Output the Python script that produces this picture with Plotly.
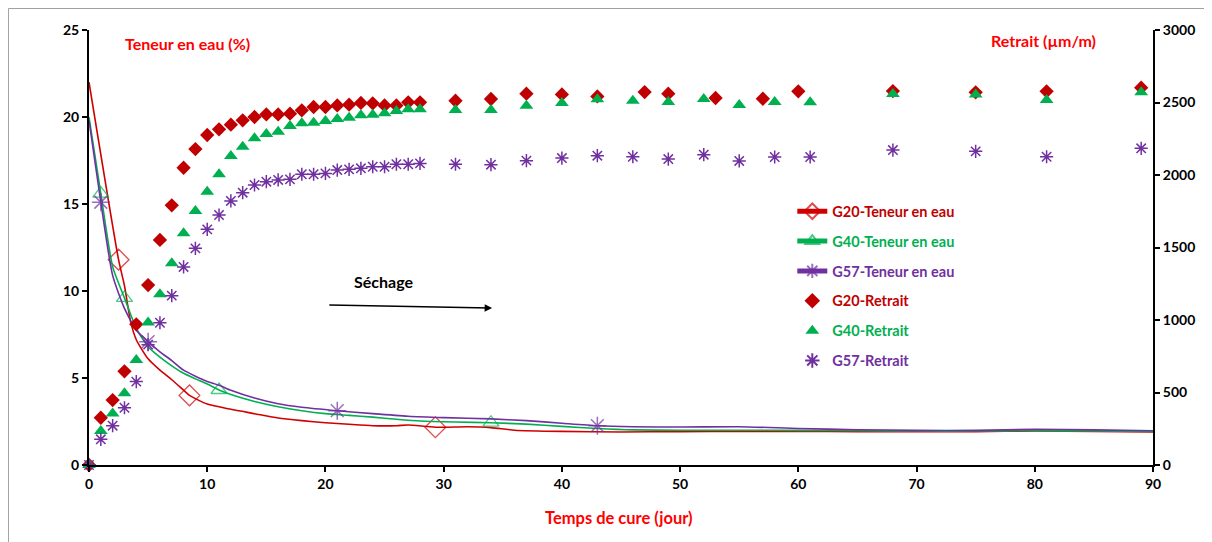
import plotly.graph_objects as go

# ---------------- data ----------------
# Teneur en eau (%) - left axis
g20_ten_days = [0, 2.5, 3, 3.5, 4, 5, 6, 7, 8, 8.5, 10, 12, 14, 16, 18, 20, 22, 24, 26, 27, 29.3, 32, 34, 36,
                40, 45, 50, 55, 60, 65, 70, 75, 80, 85, 90]
g20_ten = [22.0, 11.8, 10.3, 8.3, 7.2, 6.1, 5.45, 4.9, 4.3, 4.0, 3.5, 3.2, 2.95, 2.7, 2.55, 2.43, 2.34, 2.26,
           2.26, 2.3, 2.17, 2.2, 2.15, 2.0, 1.93, 1.9, 1.92, 1.93, 1.93, 1.92, 1.91, 1.92, 1.95, 1.93, 1.9]
g20_ten_marks = [2.5, 8.5, 29.3]

g40_ten_days = [0, 1, 2, 3, 4, 5, 6, 7, 8, 9, 10, 11, 12, 14, 16, 18, 20, 22, 24, 26, 28, 31, 34, 37, 40, 43,
                46, 50, 55, 60, 65, 70, 75, 80, 85, 90]
g40_ten = [20.0, 15.6, 11.4, 9.6, 7.85, 6.8, 6.2, 5.7, 5.27, 4.95, 4.65, 4.31, 4.05, 3.65, 3.35, 3.12, 2.95,
           2.85, 2.75, 2.63, 2.53, 2.47, 2.43, 2.35, 2.22, 2.1, 2.02, 2.0, 2.0, 1.99, 1.97, 1.95, 1.95, 1.97,
           1.95, 1.93]
g40_ten_marks = [1, 3, 11, 34]

g57_ten_days = [0, 1, 2, 3, 4, 5, 6, 7, 8, 9, 10, 11, 12, 14, 16, 18, 21, 24, 27, 30, 34, 37, 40, 43, 46, 50,
                55, 60, 65, 70, 75, 80, 85, 90]
g57_ten = [19.8, 15.1, 10.9, 9.0, 7.75, 7.09, 6.5, 6.0, 5.45, 5.1, 4.8, 4.58, 4.3, 3.85, 3.52, 3.32, 3.12,
           2.95, 2.8, 2.72, 2.65, 2.55, 2.4, 2.26, 2.2, 2.18, 2.2, 2.1, 2.03, 1.99, 1.99, 2.05, 2.02, 1.97]
g57_ten_marks = [1, 5, 21, 43]

# Retrait (µm/m) - right axis
g20_ret_days = list(range(0, 29)) + [31, 34, 37, 40, 43, 47, 49, 53, 57, 60, 68, 75, 81, 89]
g20_ret = [0, 326, 448, 646, 970, 1241, 1552, 1791, 2050, 2179,
           2276, 2315, 2347, 2377, 2400, 2418, 2418, 2423, 2446, 2469,
           2469, 2480, 2485, 2497, 2494, 2480, 2480, 2501, 2501,
           2512, 2524, 2561, 2556, 2542, 2572, 2561, 2531, 2526, 2577, 2579, 2570, 2577, 2602]

g40_ret_days = list(range(0, 29)) + [31, 34, 37, 40, 43, 46, 49, 52, 55, 58, 61, 68, 75, 81, 89]
g40_ret = [0, 234, 356, 494, 724, 982, 1177, 1391, 1598, 1752,
           1885, 2005, 2131, 2195, 2253, 2283, 2299, 2338, 2357, 2361,
           2372, 2386, 2395, 2412, 2416, 2426, 2441, 2453, 2453,
           2448, 2448, 2478, 2497, 2522, 2512, 2503, 2524, 2483, 2503, 2501, 2559, 2556, 2517, 2570]

g57_ret_days = list(range(0, 29)) + [31, 34, 37, 40, 43, 46, 49, 52, 55, 58, 61, 68, 75, 81, 89]
g57_ret = [0, 177, 271, 395, 575, 830, 981, 1168, 1366, 1494,
           1625, 1724, 1821, 1878, 1931, 1954, 1966, 1970, 2005, 2005,
           2011, 2034, 2039, 2046, 2057, 2057, 2074, 2074, 2080,
           2074, 2071, 2099, 2117, 2133, 2126, 2110, 2140, 2097, 2124, 2124, 2172, 2163, 2126, 2184]

x_ticks = [0, 10, 20, 30, 40, 50, 60, 70, 80, 90]
y_ticks = [0, 5, 10, 15, 20, 25]
y2_ticks = [0, 500, 1000, 1500, 2000, 2500, 3000]

RED = "#C00000"
RED_LINE = "#D00000"
GREEN = "#00B050"
PURPLE = "#7030A0"
FONT = "Lato"


def lab(text, color):
    return f"<b><span style='color:{color}'>{text}</span></b>"


def msizes(days, marks, s):
    return [s if d in marks else 0 for d in days]


fig = go.Figure()

fig.add_trace(go.Scatter(
    x=g20_ten_days, y=g20_ten, mode="lines+markers", name=lab("G20-Teneur en eau", RED),
    line=dict(color=RED_LINE, width=1.6, shape="spline", smoothing=0.6),
    marker=dict(symbol="diamond-open", size=msizes(g20_ten_days, g20_ten_marks, 16),
                color=RED_LINE, line=dict(width=1.3, color=RED_LINE)),
    legendgroup="a", cliponaxis=False))
fig.add_trace(go.Scatter(
    x=g40_ten_days, y=g40_ten, mode="lines+markers", name=lab("G40-Teneur en eau", GREEN),
    line=dict(color=GREEN, width=1.6, shape="spline", smoothing=0.6),
    marker=dict(symbol="triangle-up-open", size=msizes(g40_ten_days, g40_ten_marks, 14),
                color=GREEN, line=dict(width=1.3, color=GREEN)),
    legendgroup="b", cliponaxis=False))
fig.add_trace(go.Scatter(
    x=g57_ten_days, y=g57_ten, mode="lines+markers", name=lab("G57-Teneur en eau", PURPLE),
    line=dict(color=PURPLE, width=1.6, shape="spline", smoothing=0.6),
    marker=dict(symbol="asterisk-open", size=msizes(g57_ten_days, g57_ten_marks, 15),
                color=PURPLE, line=dict(width=1.5, color=PURPLE)),
    legendgroup="c", cliponaxis=False))

fig.add_trace(go.Scatter(
    x=g20_ret_days, y=g20_ret, mode="markers", name=lab("G20-Retrait", RED), yaxis="y2",
    marker=dict(symbol="diamond", size=11, color=RED), legendgroup="d", cliponaxis=False))
fig.add_trace(go.Scatter(
    x=g40_ret_days, y=g40_ret, mode="markers", name=lab("G40-Retrait", GREEN), yaxis="y2",
    marker=dict(symbol="triangle-up", size=12, color=GREEN), legendgroup="e", cliponaxis=False))
fig.add_trace(go.Scatter(
    x=g57_ret_days, y=g57_ret, mode="markers", name=lab("G57-Retrait", PURPLE), yaxis="y2",
    marker=dict(symbol="asterisk-open", size=11, color=PURPLE, line=dict(width=1.5, color=PURPLE)),
    legendgroup="f", cliponaxis=False))

tickfont = dict(family=FONT, size=14, color="black", weight=700)
axis_common = dict(showline=True, linecolor="black", linewidth=2, ticks="outside", ticklen=5,
                   tickwidth=2, tickcolor="black", showgrid=False, zeroline=False, tickfont=tickfont)

fig.update_layout(
    width=1212, height=542,
    margin=dict(l=81, r=67, t=22, b=85),
    paper_bgcolor="white", plot_bgcolor="white",
    font=dict(family=FONT, size=14, color="black"),
    xaxis=dict(range=[0, 90], tickvals=x_ticks, **axis_common),
    yaxis=dict(range=[0, 25], tickvals=y_ticks, **axis_common),
    yaxis2=dict(range=[0, 3000], tickvals=y2_ticks, overlaying="y", side="right", **axis_common),
    legend=dict(x=0.661, y=0.62, xanchor="left", yanchor="top", bgcolor="rgba(0,0,0,0)",
                tracegroupgap=8, itemsizing="constant",
                font=dict(family=FONT, size=14.5, weight=700)),
    showlegend=True,
)

title_font = dict(family=FONT, size=16, color="#FF0000", weight=700)
fig.add_annotation(text="<b>Teneur en eau (%)</b>", xref="paper", yref="paper", x=0.093, y=0.970,
                   xanchor="center", yanchor="middle", showarrow=False, font=title_font)
fig.add_annotation(text="<b>Retrait (µm/m)</b>", xref="paper", yref="paper", x=0.897, y=0.977,
                   xanchor="center", yanchor="middle", showarrow=False, font=title_font)
fig.add_annotation(text="<b>Temps de cure (jour)</b>", xref="paper", yref="paper", x=0.498, y=-0.122,
                   xanchor="center", yanchor="middle", showarrow=False,
                   font=dict(family=FONT, size=16.5, color="#FF0000", weight=700))
fig.add_annotation(text="<b>Séchage</b>", xref="x", yref="y", x=24.9, y=10.57, showarrow=False,
                   xanchor="center", yanchor="middle",
                   font=dict(family=FONT, size=16, color="black", weight=700))
fig.add_annotation(x=34.1, y=9.02, ax=20.2, ay=9.2, xref="x", yref="y", axref="x", ayref="y",
                   text="", showarrow=True, arrowhead=2, arrowsize=1, arrowwidth=1.5, arrowcolor="black")

fig.add_shape(type="rect", xref="paper", yref="paper", x0=-0.0757, x1=1.2, y0=-0.4, y1=1.0494,
              line=dict(color="#A0A0A0", width=1), fillcolor="rgba(0,0,0,0)", layer="below")

fig.write_html("out.html")
